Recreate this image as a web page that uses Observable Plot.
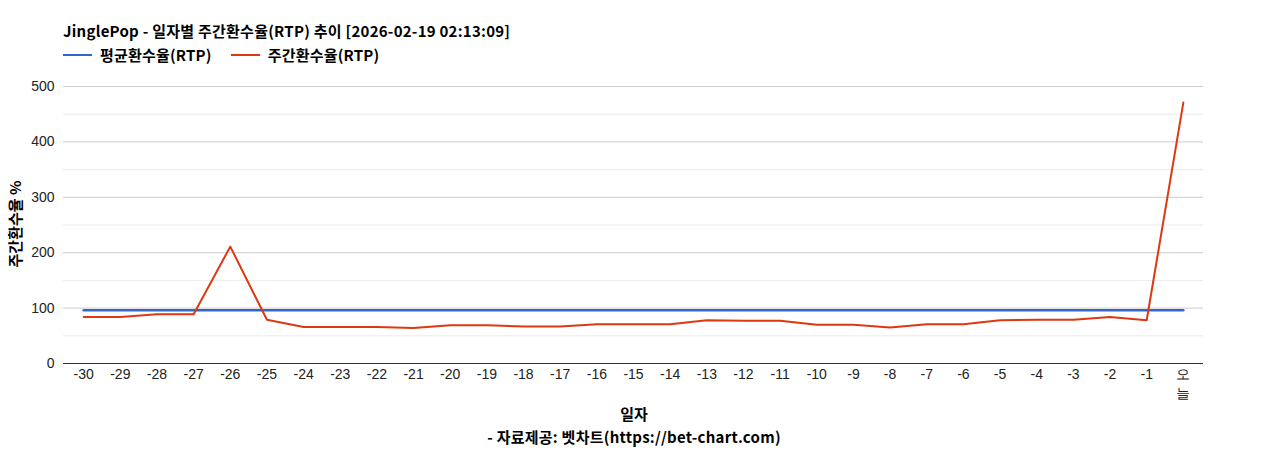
<!DOCTYPE html>
<html>
<head>
<meta charset="utf-8">
<script src="https://cdn.jsdelivr.net/npm/d3@7"></script>
<script src="https://cdn.jsdelivr.net/npm/@observablehq/plot@0.6"></script>
<style>
  html, body { margin: 0; padding: 0; background: #fff; }
  #wrap { position: relative; width: 1268px; height: 450px; font-family: "Noto Sans CJK KR", "Noto Sans", sans-serif; color: #000; }
  .title { position: absolute; left: 63px; top: 20px; font-size: 15px; letter-spacing: 0.25px; font-weight: bold; white-space: nowrap; line-height: 22px; }
  .legend { position: absolute; left: 63px; top: 44px; font-size: 15px; letter-spacing: 0.2px; font-weight: bold; white-space: nowrap; display: flex; align-items: center; line-height: 22px; }
  .legend .item { display: flex; align-items: center; margin-right: 19px; }
  .legend .sw { width: 29px; height: 2px; margin-right: 8px; }
  #chart { position: absolute; left: 0; top: 70px; }
  .xlabel { position: absolute; left: 0; width: 1268px; top: 403px; text-align: center; font-size: 15px; font-weight: bold; line-height: 22px; }
  .caption { position: absolute; left: 0; width: 1268px; top: 426px; text-align: center; font-size: 15px; letter-spacing: 0.25px; font-weight: bold; line-height: 22px; }
  .ylabel { position: absolute; left: 15px; top: 224px; transform: translate(-50%, -50%) rotate(-90deg); font-size: 15px; font-weight: bold; white-space: nowrap; line-height: 18px; }
</style>
</head>
<body>
<div id="wrap">
  <div class="title" id="title"></div>
  <div class="legend" id="legend"></div>
  <div id="chart"></div>
  <div class="ylabel" id="ylabel"></div>
  <div class="xlabel" id="xlabel"></div>
  <div class="caption" id="caption"></div>
</div>
<script>
const titleText = "JinglePop - 일자별 주간환수율(RTP) 추이 [2026-02-19 02:13:09]";
const seriesNames = ["평균환수율(RTP)", "주간환수율(RTP)"];
const seriesColors = ["#3366cc", "#dc3912"];
const yLabel = "주간환수율 %";
const xLabel = "일자";
const captionText = "- 자료제공: 벳차트(https://bet-chart.com)";

const days = ["-30","-29","-28","-27","-26","-25","-24","-23","-22","-21","-20","-19","-18","-17","-16","-15","-14","-13","-12","-11","-10","-9","-8","-7","-6","-5","-4","-3","-2","-1","오늘"];
const avgRTP = [96,96,96,96,96,96,96,96,96,96,96,96,96,96,96,96,96,96,96,96,96,96,96,96,96,96,96,96,96,96,96];
const weeklyRTP = [84,84,89,89,211,79,66,66,66,64,69,69,67,67,71,71,71,78,77,77,70,70,65,71,71,78,79,79,84,78,471];
const yTicksMajor = [0,100,200,300,400,500];
const yTicksMinor = [50,150,250,350,450];

document.getElementById("title").textContent = titleText;
document.getElementById("ylabel").textContent = yLabel;
document.getElementById("xlabel").textContent = xLabel;
document.getElementById("caption").textContent = captionText;
const legend = document.getElementById("legend");
seriesNames.forEach((n, i) => {
  const it = document.createElement("div");
  it.className = "item";
  const sw = document.createElement("div");
  sw.className = "sw";
  sw.style.background = seriesColors[i];
  const t = document.createElement("span");
  t.textContent = n;
  it.appendChild(sw); it.appendChild(t);
  legend.appendChild(it);
});

const avgData = days.map((d, i) => ({day: d, value: avgRTP[i]}));
const weekData = days.map((d, i) => ({day: d, value: weeklyRTP[i]}));

const chart = Plot.plot({
  width: 1268,
  height: 355,
  marginLeft: 63,
  marginRight: 65,
  marginTop: 16,
  marginBottom: 62,
  style: { fontFamily: "'Liberation Sans', Arial, sans-serif", fontSize: "14px", color: "#222", background: "#fff" },
  x: { type: "point", domain: days, padding: 0.55, round: false },
  y: { domain: [0, 500] },
  marks: [
    Plot.gridY(yTicksMinor, { stroke: "#ebebeb", strokeOpacity: 1 }),
    Plot.gridY(yTicksMajor.filter(v => v > 0), { stroke: "#cccccc", strokeOpacity: 1 }),
    Plot.axisY(yTicksMajor, { tickSize: 0, tickPadding: 9, label: null, fontSize: 14, fill: "#222" }),
    Plot.axisX({ tickSize: 0, tickPadding: 1, label: null, fontSize: 14, fill: "#222", lineHeight: 1.42,
      tickFormat: d => d === "오늘" ? "오\n늘" : d }),
    Plot.ruleY([0], { stroke: "#333", strokeWidth: 1 }),
    Plot.line(avgData, { x: "day", y: "value", stroke: seriesColors[0], strokeWidth: 2.5 }),
    Plot.line(weekData, { x: "day", y: "value", stroke: seriesColors[1], strokeWidth: 2 })
  ]
});
document.getElementById("chart").appendChild(chart);
</script>
</body>
</html>
